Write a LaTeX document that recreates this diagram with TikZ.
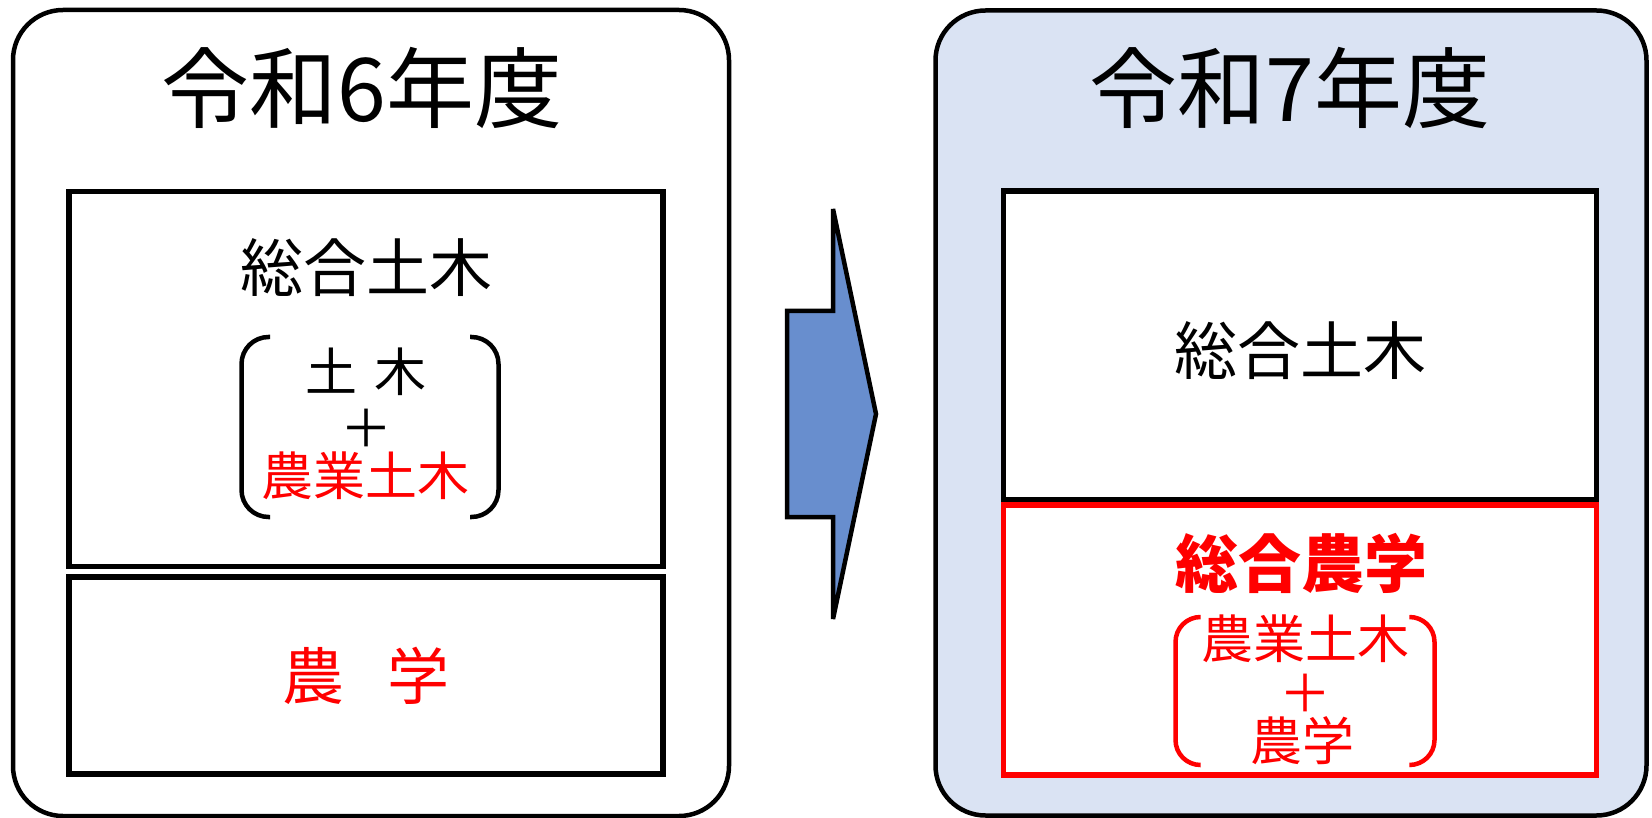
\documentclass[tikz,border=0pt]{standalone}
\usepackage{fontspec}
\setmainfont{Noto Sans CJK JP}
\usetikzlibrary{positioning}
\definecolor{paleblue}{RGB}{218,227,243}
\definecolor{arrowblue}{RGB}{104,142,206}

\begin{document}
\begin{tikzpicture}[x=1pt, y=-1pt,
  yearbox/.style={rectangle, draw, rounded corners=50pt, line width=4.5pt},
  course/.style={rectangle, draw, line width=5.5pt, fill=white},
  title/.style={inner sep=0pt, font=\fontsize{88}{96}\selectfont},
  big/.style={inner sep=0pt, font=\fontsize{63}{70}\selectfont},
  small/.style={inner sep=0pt, font=\fontsize{52}{58}\selectfont},
  brace/.style={line width=4.5pt, rounded corners=27pt}
]
\useasboundingbox (0,0) rectangle (1652,818);

% year frames
\node[yearbox, minimum width=716pt, minimum height=806pt] (r6) at (371,413) {};
\node[yearbox, fill=paleblue, minimum width=711pt, minimum height=805pt] (r7) at (1291,413) {};

\node[title] (t6) at (362,88) {令和6年度};
\node[title] (t7) at (1290,88) {令和7年度};

% courses
\node[course, minimum width=594pt, minimum height=375pt] (civil6) at (366,379) {};
\node[course, minimum width=594pt, minimum height=197pt] (agri6) at (366,675.5) {};
\node[course, minimum width=593pt, minimum height=309pt] (civil7) at (1300,345.5) {};
\node[course, draw=red, minimum width=593pt, minimum height=270pt] (agri7) at (1300,640) {};

\node[big] (c6) at (366,268) {総合土木};
\node[small] (c6a) at (366,372) {土\hspace{0.33em}木};
\node[small] (c6p) at (366,428) {＋};
\node[small, text=red] (c6b) at (365,476) {農業土木};
\draw[brace] (270,337) -- (241.5,337) -- (241.5,517) -- (270,517);
\draw[brace] (470,337) -- (498.5,337) -- (498.5,517) -- (470,517);

\node[inner sep=0pt, font=\fontsize{62}{70}\selectfont, text=red] (a6) at (366,676) {農\hspace{0.7em}学};

\node[big] (c7) at (1300,351) {総合土木};

\node[big, text=red, font=\fontsize{63}{70}\selectfont\bfseries] (a7) at (1301,563) {総合農学};
\node[small, text=red] (a7a) at (1305,639) {農業土木};
\node[small, text=red] (a7p) at (1305,693) {＋};
\node[small, text=red] (a7b) at (1302,741) {農学};
\draw[brace, red, rounded corners=25pt] (1200,617) -- (1175.5,617) -- (1175.5,765) -- (1200,765);
\draw[brace, red, rounded corners=25pt] (1410,617) -- (1434.5,617) -- (1434.5,765) -- (1410,765);

% transition arrow
\draw[line width=4.5pt, miter limit=2, fill=arrowblue] (787,311) -- (833,311) -- (833,209) -- (876,414)
  -- (833,619) -- (833,517) -- (787,517) -- cycle;

\end{tikzpicture}
\end{document}
